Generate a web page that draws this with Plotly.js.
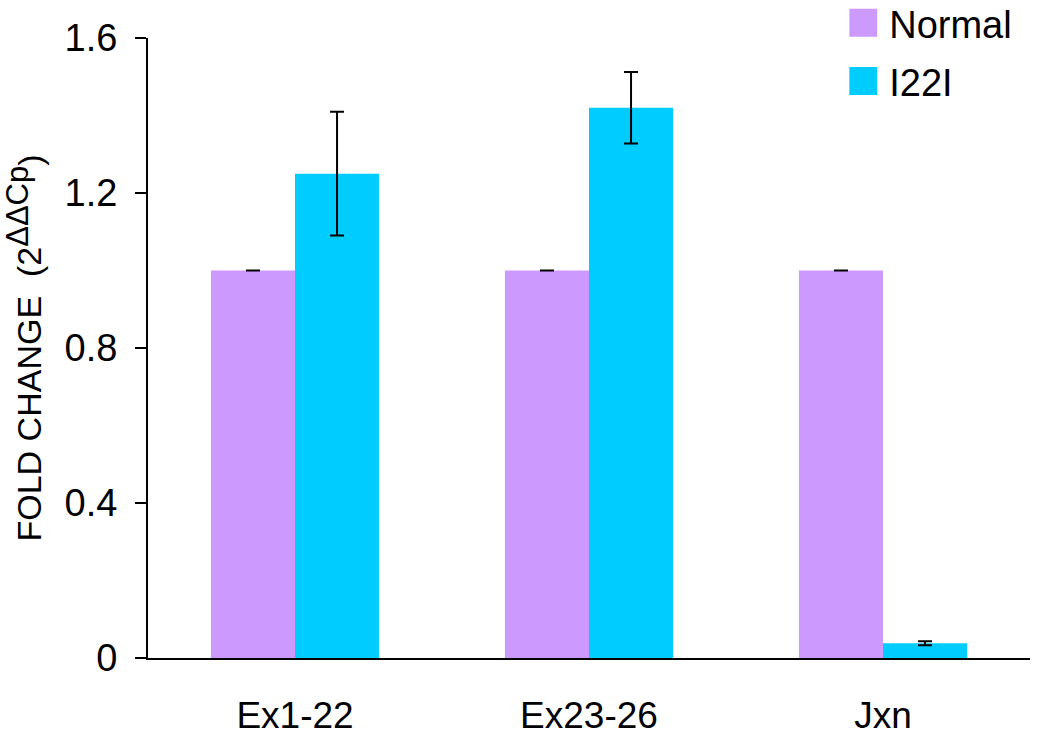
<!DOCTYPE html>
<html>
<head>
<meta charset="utf-8">
<script src="https://cdn.plot.ly/plotly-3.0.1.min.js"></script>
<style>html,body{margin:0;padding:0;background:#fff;}#chart{width:1037px;height:735px;}</style>
</head>
<body>
<div id="chart"></div>
<script>
const categories = ["Ex1-22", "Ex23-26", "Jxn"];
const normalValues = [1.0, 1.0, 1.0];
const normalErrors = [0, 0, 0];
const i22iValues = [1.25, 1.42, 0.038];
const i22iErrors = [0.16, 0.092, 0.005];
const yTickValues = [0, 0.4, 0.8, 1.2, 1.6];
const yTickLabels = ["0", "0.4", "0.8", "1.2", "1.6"];

const FONT = "Liberation Sans, Arial, Helvetica, sans-serif";

const traces = [
  {
    type: "bar", name: "Normal", x: categories, y: normalValues, legendgroup: "a",
    marker: {color: "#CC99FF", line: {width: 0}},
    error_y: {type: "data", array: normalErrors, visible: true, color: "#000", thickness: 2, width: 7}
  },
  {
    type: "bar", name: "I22I", x: categories, y: i22iValues, legendgroup: "b",
    marker: {color: "#00CCFF", line: {width: 0}},
    error_y: {type: "data", array: i22iErrors, visible: true, color: "#000", thickness: 2, width: 7}
  }
];

const layout = {
  width: 1037, height: 735,
  margin: {l: 148, r: 7, t: 38, b: 77, pad: 0, autoexpand: false},
  paper_bgcolor: "#fff", plot_bgcolor: "#fff",
  font: {family: FONT, size: 38, color: "#000"},
  barmode: "group",
  bargap: 0.428,
  bargroupgap: 0,
  showlegend: true,
  legend: {
    x: 0.795, y: 1.075, xanchor: "left", yanchor: "top",
    font: {family: FONT, size: 38, color: "#000"},
    tracegroupgap: 6,
    bgcolor: "rgba(0,0,0,0)", borderwidth: 0
  },
  xaxis: {
    type: "category", range: [-0.5, 2.5],
    showline: true, linecolor: "#000", linewidth: 2,
    ticks: "", showgrid: false, zeroline: false,
    tickfont: {family: FONT, size: 37, color: "#000"},
    ticklabelstandoff: 24
  },
  yaxis: {
    range: [0, 1.6], tickvals: yTickValues, ticktext: yTickLabels,
    showline: true, linecolor: "#000", linewidth: 2,
    ticks: "outside", ticklen: 11, tickwidth: 2, tickcolor: "#000",
    showgrid: false, zeroline: false,
    tickfont: {family: FONT, size: 38, color: "#000"},
    ticklabelstandoff: 10,
    title: {
      text: "\u00a0\u00a0\u00a0FOLD CHANGE  (2<sup>ΔΔCp</sup>)",
      font: {family: FONT, size: 34, color: "#000"}, standoff: 13
    }
  }
};

Plotly.newPlot("chart", traces, layout, {staticPlot: true, displayModeBar: false}).then(function () {
  document.querySelectorAll("#chart .legendpoints path").forEach(function (p) {
    p.setAttribute("d", "M-20,-14H8V14H-20Z");
  });
  document.querySelectorAll("#chart .ytitle tspan").forEach(function (t) {
    if (t.textContent === "ΔΔCp" && t.children.length === 0) {
      t.style.fontSize = "31px";
      t.setAttribute("dy", "-13");
    }
  });
});
</script>
</body>
</html>
